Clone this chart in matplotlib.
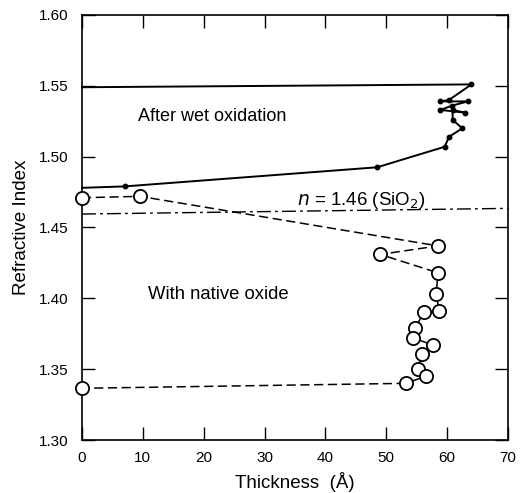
import matplotlib
matplotlib.use("Agg")
import matplotlib.pyplot as plt

plt.rcParams['font.family'] = ['Liberation Sans', 'DejaVu Sans']

# After wet oxidation (solid line, small dots)
wet_x = [0, 7, 48.5, 59.6, 60.3, 62.5, 60.9, 60.9, 63.0, 58.9, 60.8, 63.4, 58.9, 60.3, 64.0, 0]
wet_y = [1.478, 1.479, 1.4925, 1.507, 1.514, 1.520, 1.526, 1.533, 1.531, 1.533, 1.536, 1.539,
         1.539, 1.540, 1.551, 1.549]

# With native oxide (open circles)
nat_x = [0, 9.5, 58.5, 49.0, 58.5, 58.2, 58.7, 56.2, 54.7, 54.4, 57.7, 55.9, 55.2, 56.5, 53.2, 0]
nat_y = [1.471, 1.472, 1.437, 1.431, 1.418, 1.403, 1.391, 1.390, 1.379, 1.372, 1.367, 1.361,
         1.350, 1.345, 1.340, 1.3365]

# SiO2 reference line
ref_x = [0, 70]
ref_y = [1.4595, 1.4635]

fig = plt.figure(figsize=(5.2, 4.93), dpi=100)
ax = fig.add_axes([0.1577, 0.1075, 0.8192, 0.8621])

ax.plot(ref_x, ref_y, color='black', lw=1.0, linestyle=(0, (10, 3, 2, 3)))
ax.plot(wet_x, wet_y, color='black', lw=1.4, marker='o', ms=3.2,
        markevery=list(range(1, len(wet_x) - 1)), clip_on=False)

# dashed segments at the ends, solid ones inside the cluster
ax.plot(nat_x[:5], nat_y[:5], color='black', lw=1.1, linestyle=(0, (6, 3)))
ax.plot(nat_x[4:15], nat_y[4:15], color='black', lw=1.1)
ax.plot(nat_x[14:], nat_y[14:], color='black', lw=1.1, linestyle=(0, (6, 3)))
ax.plot(nat_x, nat_y, linestyle='none', marker='o', ms=9.5, mfc='white', mec='black',
        mew=1.3, clip_on=False, zorder=5)

ax.text(9.2, 1.528, 'After wet oxidation', fontsize=13, va='center')
ax.text(10.8, 1.403, 'With native oxide', fontsize=13.3, va='center')
ax.text(35.3, 1.4694, r'$n$ = 1.46 (SiO$_2$)', fontsize=13.5, va='center')

ax.set_xlim(0, 70)
ax.set_ylim(1.30, 1.60)
ax.set_xticks(range(0, 71, 10))
ax.set_yticks([1.30, 1.35, 1.40, 1.45, 1.50, 1.55, 1.60])
ax.set_yticklabels(['1.30', '1.35', '1.40', '1.45', '1.50', '1.55', '1.60'])
ax.tick_params(direction='in', length=9.5, width=1.0, top=True, right=True, labelsize=11)
ax.tick_params(axis='y', pad=10)
ax.tick_params(axis='x', pad=8)
for s in ax.spines.values():
    s.set_linewidth(1.2)

ax.set_xlabel('Thickness  (Å)', fontsize=13.5, labelpad=5)
ax.set_ylabel('Refractive Index', fontsize=13.5, labelpad=6)

fig.savefig('out.png', dpi=100)
